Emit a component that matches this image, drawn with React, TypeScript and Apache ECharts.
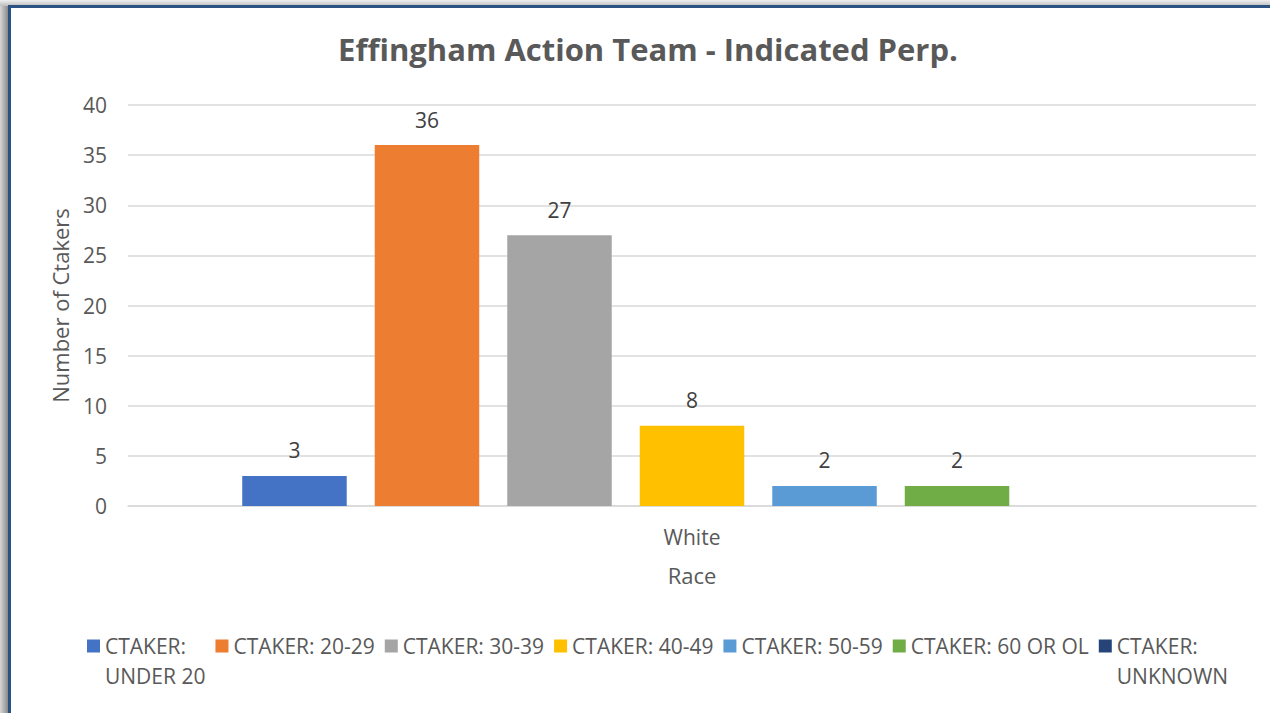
import React, { useEffect, useRef } from "react";
import * as echarts from "echarts";

const categories = ["White"];
const seriesNames = [
  "CTAKER: UNDER 20",
  "CTAKER: 20-29",
  "CTAKER: 30-39",
  "CTAKER: 40-49",
  "CTAKER: 50-59",
  "CTAKER: 60 OR OL",
  "CTAKER: UNKNOWN",
];
const legendLabels = [
  " \nCTAKER:\nUNDER 20",
  "CTAKER: 20-29",
  "CTAKER: 30-39",
  "CTAKER: 40-49",
  "CTAKER: 50-59",
  "CTAKER: 60 OR OL",
  " \nCTAKER:\nUNKNOWN",
];
const seriesValues: (number | null)[] = [3, 36, 27, 8, 2, 2, null];
const colors = ["#4472c4", "#ed7d31", "#a5a5a5", "#ffc000", "#5b9bd5", "#70ad47", "#264478"];
const yTicks = { min: 0, max: 40, interval: 5 };

const FONT = "'Open Sans', 'Noto Sans', sans-serif";
const TXT = "#595959";

export default function App() {
  const ref = useRef<HTMLDivElement>(null);
  useEffect(() => {
    if (!ref.current) return;
    const chart = echarts.init(ref.current, null, { renderer: "svg" });
    const LH = 30;
    chart.setOption({
      animation: false,
      backgroundColor: "#ffffff",
      textStyle: { fontFamily: FONT },
      title: {
        text: "Effingham Action Team - Indicated Perp.",
        left: 643,
        textAlign: "center",
        top: 28,
        textStyle: { fontFamily: FONT, fontSize: 31, fontWeight: "bold", color: TXT },
      },
      graphic: [
        {
          type: "rect",
          shape: { x: 0, y: 0, width: 10, height: 713 },
          style: {
            fill: new echarts.graphic.LinearGradient(0, 0, 1, 0, [
              { offset: 0, color: "#d8d8d8" },
              { offset: 0.8, color: "#8a8a8a" },
              { offset: 1, color: "#6a6a6a" },
            ]),
          },
          z: 10,
        },
        {
          type: "rect",
          shape: { x: 0, y: 0, width: 1270, height: 6 },
          style: {
            fill: new echarts.graphic.LinearGradient(0, 0, 0, 1, [
              { offset: 0, color: "#f0f0f0" },
              { offset: 1, color: "#bdbdbd" },
            ]),
          },
          z: 10,
        },
        {
          type: "rect",
          shape: { x: 8, y: 5, width: 1262, height: 3 },
          style: { fill: "#2b5283" },
          z: 11,
        },
        {
          type: "rect",
          shape: { x: 8, y: 5, width: 3, height: 708 },
          style: { fill: "#2b5283" },
          z: 11,
        },
      ],
      legend: {
        top: 596,
        left: 82,
        itemWidth: 13,
        itemHeight: 13,
        itemGap: 10,
        icon: "rect",
        data: seriesNames,
        formatter: (name: string) => legendLabels[seriesNames.indexOf(name)],
        textStyle: { fontFamily: FONT, fontSize: 21, color: TXT, lineHeight: LH },
      },
      grid: { left: 128, right: 14, top: 105, bottom: 207 },
      xAxis: {
        type: "category",
        data: categories,
        name: "Race",
        nameLocation: "middle",
        nameGap: 58,
        nameTextStyle: { fontFamily: FONT, fontSize: 22, color: TXT },
        axisLine: { lineStyle: { color: "#d9d9d9", width: 1.5 } },
        axisTick: { show: false },
        axisLabel: { fontFamily: FONT, fontSize: 21, color: TXT, margin: 20 },
      },
      yAxis: {
        type: "value",
        min: yTicks.min,
        max: yTicks.max,
        interval: yTicks.interval,
        name: "Number of Ctakers",
        nameLocation: "middle",
        nameGap: 57,
        nameRotate: 90,
        nameTextStyle: { fontFamily: FONT, fontSize: 22, color: TXT },
        axisLine: { show: false },
        axisTick: { show: false },
        axisLabel: { fontFamily: FONT, fontSize: 21, color: TXT, margin: 21 },
        splitLine: { lineStyle: { color: "#d9d9d9", width: 1.5 } },
      },
      series: seriesNames.map((n, i) => ({
        name: n,
        type: "bar",
        data: [seriesValues[i]],
        barWidth: 104.5,
        barGap: "26.8%",
        itemStyle: { color: colors[i] },
        label: {
          show: true,
          position: "top",
          distance: 15,
          fontFamily: FONT,
          fontSize: 21,
          color: "#404040",
        },
      })),
    });
    return () => chart.dispose();
  }, []);
  return (
    <div
      ref={ref}
      style={{ position: "absolute", left: 0, top: 0, width: 1270, height: 713 }}
    />
  );
}
